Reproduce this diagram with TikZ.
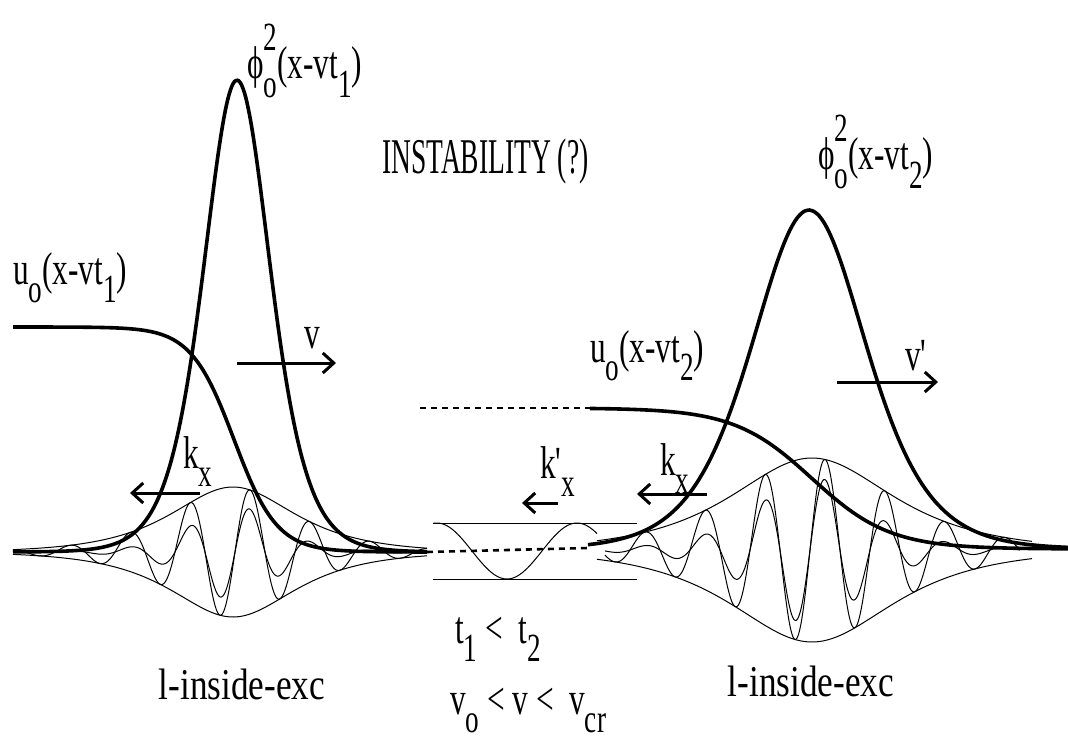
\documentclass[tikz,border=0pt]{standalone}
\usepackage{fontspec}
\newfontfamily\tf[FakeStretch=0.68]{Liberation Serif}
\newfontfamily\tfn[FakeStretch=0.55]{Liberation Serif}
\newfontfamily\tfw[FakeStretch=0.8]{Liberation Serif}
\usetikzlibrary{arrows.meta}
\newcommand{\lo}[1]{\raisebox{-0.4em}{\fontsize{40}{40}\selectfont #1}}
\newcommand{\hi}[1]{\raisebox{0.62em}{\fontsize{40}{40}\selectfont #1}}
\newcommand{\phisq}{ϕ\rlap{\hi{2}}\lo{o}}
\begin{document}
\begin{tikzpicture}[x=1pt,y=-1pt,
  declare function={sech(\t)=1/cosh(\t);},
  thickc/.style={line width=3.6pt},
  thinc/.style={line width=1pt},
  dashc/.style={line width=2.6pt, dash pattern=on 6pt off 5pt},
  arr/.style={line width=3pt, -{Straight Barb[length=11pt,width=20pt]}},
  lbl/.style={inner sep=0pt, font=\fontsize{46}{46}\tf},
  lbln/.style={inner sep=0pt, font=\fontsize{50}{50}\tfn},
  lblw/.style={inner sep=0pt, font=\fontsize{44}{44}\tfw}]
\useasboundingbox (0,0) rectangle (1068,746);
\fill[white] (0,0) rectangle (1068,746);

% ---------- left soliton ----------
\draw[thinc] plot[domain=13:427,samples=200] (\x,{552-65*sech((\x-233)/55)});
\draw[thinc] plot[domain=13:427,samples=200] (\x,{552+65*sech((\x-233)/55)});
\draw[thinc] plot[domain=13:427,samples=500] (\x,{552-65*sech((\x-233)/55)*cos(6*(\x-250))});
\draw[thinc] plot[domain=13:427,samples=500] (\x,{552-48*sech((\x-233)/35)*cos(6*(\x-250))});
\draw[thickc] plot[domain=13:427,samples=300] (\x,{552-472*sech((\x-237)/45)^2});
\draw[thickc] plot[domain=13:427,samples=200] (\x,{327+112.5*(1+tanh((\x-234)/43))});

% ---------- middle ----------
\coordinate (dUa) at (420,408);
\coordinate (dUb) at (590,408);
\coordinate (dLa) at (427,552);
\coordinate (dLb) at (588,548);
\draw[dashc] (dUa) -- (dUb);
\draw[dashc] (dLa) -- (dLb);
\coordinate (hTa) at (433,523);
\coordinate (hTb) at (637,523);
\coordinate (hBa) at (433,579);
\coordinate (hBb) at (637,579);
\draw[thinc] (hTa) -- (hTb);
\draw[thinc] (hBa) -- (hBb);
\draw[thinc] plot[domain=433:597,samples=120] (\x,{551-28*cos(2.5714*(\x-437))});

% ---------- right soliton ----------
\draw[thinc] plot[domain=597:1032,samples=200] (\x,{550-92*sech((\x-812)/72)});
\draw[thinc] plot[domain=597:1032,samples=200] (\x,{550+92*sech((\x-812)/72)});
\draw[thinc] plot[domain=605:1020,samples=500] (\x,{550-92*sech((\x-812)/72)*cos(6*(\x-825))});
\draw[thinc] plot[domain=605:1020,samples=500] (\x,{550-74*sech((\x-810)/47)*cos(6*(\x-825))});
\draw[thickc] plot[domain=588:1068,samples=300] (\x,{549-339*sech((\x-809)/77)^2});
\draw[thickc] plot[domain=590:1068,samples=200] (\x,{408+70.5*(1+tanh((\x-812)/78))});

% ---------- arrows ----------
\coordinate (va) at (237,363);  \coordinate (vb) at (336,363);
\coordinate (wa) at (837,382);  \coordinate (wb) at (938,382);
\coordinate (ka) at (200,493);  \coordinate (kb) at (130,493);
\coordinate (la) at (558,503);  \coordinate (lb) at (522,503);
\coordinate (ma) at (707,494);  \coordinate (mb) at (637,494);
\draw[arr] (va) -- (vb);
\draw[arr] (wa) -- (wb);
\draw[arr] (ka) -- (kb);
\draw[arr] (la) -- (lb);
\draw[arr] (ma) -- (mb);

% ---------- labels ----------
\node[lbln,anchor=base west] (instab) at (382,174) {INSTABILITY (?)};
\node[lbl,anchor=base west] (phi1) at (247,79) {\phisq(x-vt\lo{1})};
\node[lbl,anchor=base west] (phi2) at (818,170) {\phisq(x-vt\lo{2})};
\node[lbl,anchor=base west] (u1) at (13,284) {u\lo{o}(x-vt\lo{1})};
\node[lbl,anchor=base west] (u2) at (590,362) {u\lo{o}(x-vt\lo{2})};
\node[lbl,anchor=base west] (v1) at (304,348) {v};
\node[lbl,anchor=base west] (v2) at (905,370) {v'};
\node[lbl,anchor=base west] (k1) at (183,468) {k\lo{x}};
\node[lbl,anchor=base west] (k2) at (660,475) {k\lo{x}};
\node[lbl,anchor=base west] (k3) at (540,478) {k'\lo{x}};
\node[lbl,anchor=base west] (tt) at (455,643) {t\lo{1} <\, t\lo{2}};
\node[lbl,anchor=base west] (vv) at (450,714) {v\lo{o} < v <\, v\lo{cr}};
\node[lblw,anchor=base] (ex1) at (242,699) {l-inside-exc};
\node[lblw,anchor=base] (ex2) at (811,696) {l-inside-exc};
\end{tikzpicture}
\end{document}
